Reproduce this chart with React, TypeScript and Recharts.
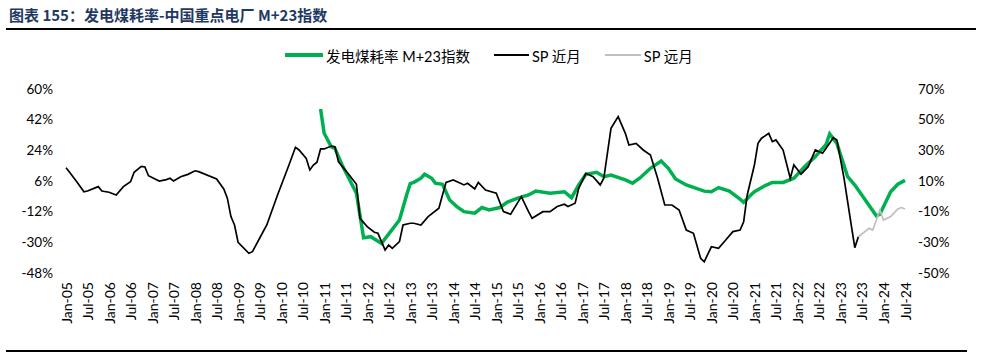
import { LineChart, Line, XAxis, YAxis } from 'recharts'

// x values are months counted from Jan-05 (0) up to Jul-24 (234)
const MONTHS = ['Jan', 'Feb', 'Mar', 'Apr', 'May', 'Jun', 'Jul', 'Aug', 'Sep', 'Oct', 'Nov', 'Dec']
const xTicks = Array.from({ length: 40 }, (_, i) => i * 6)
const xTickLabels = xTicks.map((m) => `${MONTHS[m % 12]}-${String(5 + Math.floor(m / 12)).padStart(2, '0')}`)

const leftTicks = [60, 42, 24, 6, -12, -30, -48]
const rightTicks = [70, 50, 30, 10, -10, -30, -50]

// SP 近月 (left axis, %)
const spNear: [number, number][] = [
  [0, 13.8], [1, 11.1], [3, 5.6], [5, -0.3], [6, 0.1], [9, 2.7], [10, 0.1], [12, -0.6], [14, -2.2], [16, 2.7],
  [18, 5.6], [19, 11.1], [21, 14.6], [22, 14.2], [23, 9.1], [26, 6.0], [28, 6.8], [29, 7.6], [30, 6.0], [32, 8.5],
  [34, 9.9], [36, 12.0], [37, 11.5], [42, 7.2], [44, 1.3], [45, -4.1], [46, -14.9], [47, -19.8], [48, -30], [51, -36.4],
  [52, -35.5], [54, -27.6], [56, -19.8], [59, -2.2], [62, 14.4], [64, 25.8], [65, 24.2], [67, 19.3], [68, 12.5], [69, 15.4],
  [70, 17.0], [71, 24.8], [72, 24.8], [74, 26.5], [75, 26.1], [76, 17.3], [79, 9.5], [81, 4.1], [82, -15.9], [84, -20.8],
  [86, -24.1], [87, -24.7], [89, -34.5], [90, -31.6], [91, -33.5], [93, -29.6], [94, -19.8], [96, -18.8], [97, -18.8], [99, -19.8],
  [101, -14.9], [104, -10.0], [105, -2.2], [106, 5.2], [108, 6.6], [111, 3.7], [112, 4.7], [114, 1.3], [115, 5.2], [117, 0.7],
  [120, -1.2], [122, -12.0], [124, -13.5], [127, -3.2], [129, -12.0], [130, -15.9], [133, -12.0], [135, -12.0], [137, -9.0], [139, -7.6],
  [140, -9.0], [142, -7.0], [143, 1.7], [145, 10.5], [147, 8.5], [149, 3.7], [150, 7.6], [152, 36.9], [154, 43.8], [156, 34.0],
  [157, 27.1], [159, 28.1], [161, 24.2], [163, 21.3], [165, 7.6], [167, -8.1], [169, -8.1], [171, -11.0], [173, -22.8], [175, -24.7],
  [177, -39.4], [178, -41.4], [180, -32.6], [182, -33.5], [184, -28.6], [186, -23.7], [188, -22.8], [189, -17.9], [190, -2.2], [192, 15.4],
  [193, 28.1], [194, 31.1], [196, 34.0], [197, 29.1], [198, 30.1], [200, 24.2], [202, 7.6], [203, 15.4], [205, 10.0], [207, 14.4],
  [209, 24.2], [211, 22.3], [212, 25.2], [214, 31.4], [215, 30.1], [217, 7.6], [219, -19.8], [220, -33.1], [221, -26.7],
]

// SP 远月 (left axis, %)
const spFar: [number, number][] = [
  [221, -26.7], [224, -21.8], [225, -22.8], [227, -11.0], [228, -16.9], [230, -14.9], [232, -10.4], [233, -9.6], [234, -10.4],
]

// 发电煤耗率 M+23指数 (right axis, %)
const coalIndex: [number, number][] = [
  [71, 57.0], [72, 41.1], [74, 32.3], [75, 31.3], [77, 20.4], [81, 2.0], [83, -27.0], [85, -26.3], [88, -30.7], [93, -15.4],
  [95, 0.9], [96, 8.3], [97, 9.1], [99, 11.8], [100, 14.4], [102, 11.8], [103, 8.6], [105, 7.9], [107, -2.4], [109, -6.7],
  [111, -10.0], [114, -11.0], [116, -7.3], [118, -8.9], [121, -7.3], [123, -3.9], [126, -1.2], [129, 0.9], [131, 3.4], [135, 2.0],
  [139, 3.0], [141, -0.9], [143, 7.4], [145, 14.4], [148, 15.7], [150, 12.8], [152, 13.9], [156, 10.7], [158, 8.6], [160, 11.8],
  [163, 18.3], [166, 23.0], [168, 18.3], [170, 11.3], [173, 7.4], [178, 3.4], [180, 3.0], [182, 5.7], [185, 3.4], [188, -1.8],
  [189, -3.9], [191, 0.9], [192, 3.0], [195, 7.0], [197, 9.1], [200, 9.1], [203, 11.8], [206, 19.3], [209, 25.9], [212, 33.9],
  [213, 40.7], [215, 34.5], [218, 12.8], [220, 7.4], [226, -12.7], [227, -11.7], [230, 3.0], [232, 7.9], [234, 10.4],
]

const series = [
  { name: '发电煤耗率 M+23指数', data: coalIndex, color: '#00b050', width: 3.5, axis: 'right', swatch: 38 },
  { name: 'SP 近月', data: spNear, color: '#000000', width: 1.7, axis: 'left', swatch: 35 },
  { name: 'SP 远月', data: spFar, color: '#bfbfbf', width: 1.7, axis: 'left', swatch: 36 },
]

const FONT = "Lato, 'Noto Sans CJK SC', sans-serif"

function XTick({ x, y, payload }: any) {
  const label = xTickLabels[xTicks.indexOf(payload.value)]
  return (
    <text
      transform={`translate(${x},${y}) rotate(-90)`}
      textAnchor="end"
      dominantBaseline="central"
      fontSize={14}
      fill="#000"
      fontFamily={FONT}
    >
      {label}
    </text>
  )
}

export default function App() {
  return (
    <div style={{ position: 'absolute', left: 0, top: 0, width: 982, height: 360, background: '#fff', fontFamily: FONT }}>
      <div style={{ position: 'absolute', left: 9, top: 4, fontSize: 15, fontWeight: 700, color: '#1f3864', fontFamily: "'Noto Sans CJK SC', sans-serif", whiteSpace: 'nowrap' }}>
        图表 155：发电煤耗率-中国重点电厂 M+23指数
      </div>
      <div style={{ position: 'absolute', left: 6, top: 28, width: 970, height: 2, background: '#000' }} />

      <div style={{ position: 'absolute', left: 285, top: 44, height: 22, display: 'flex', alignItems: 'center', fontSize: 14.5, color: '#000', fontFamily: FONT, whiteSpace: 'nowrap' }}>
        {series.map((s) => (
          <div key={s.name} style={{ display: 'flex', alignItems: 'center', marginRight: 24 }}>
            <div style={{ width: s.swatch, height: s.axis === 'right' ? 3.5 : 2, background: s.color, marginRight: 3 }} />
            <span>{s.name}</span>
          </div>
        ))}
      </div>

      <LineChart width={982} height={360} margin={{ top: 89, right: 17, bottom: 27, left: 6 }} style={{ position: 'absolute', left: 0, top: 0 }}>
        <XAxis
          xAxisId="x"
          type="number"
          dataKey="m"
          domain={[0, 234]}
          ticks={xTicks}
          interval={0}
          height={60}
          axisLine={false}
          tickLine={false}
          tickSize={0}
          tickMargin={9}
          tick={<XTick />}
        />
        <YAxis
          yAxisId="left"
          orientation="left"
          width={60}
          domain={[-48, 60]}
          ticks={leftTicks}
          interval={0}
          axisLine={false}
          tickLine={false}
          tickSize={0}
          tickMargin={13}
          tickFormatter={(v: number) => `${v}%`}
          tick={{ fontSize: 13.5, fill: '#000', fontFamily: FONT }}
        />
        <YAxis
          yAxisId="right"
          orientation="right"
          width={60}
          domain={[-50, 70]}
          ticks={rightTicks}
          interval={0}
          axisLine={false}
          tickLine={false}
          tickSize={0}
          tickMargin={13}
          tickFormatter={(v: number) => `${v}%`}
          tick={{ fontSize: 13.5, fill: '#000', fontFamily: FONT }}
        />
        {series.map((s) => (
          <Line
            key={s.name}
            xAxisId="x"
            yAxisId={s.axis}
            data={s.data.map(([m, v]) => ({ m, v }))}
            dataKey="v"
            name={s.name}
            type="linear"
            stroke={s.color}
            strokeWidth={s.width}
            dot={false}
            activeDot={false}
            isAnimationActive={false}
          />
        ))}
      </LineChart>

      <div style={{ position: 'absolute', left: 6, top: 350, width: 961, height: 2, background: '#000' }} />
    </div>
  )
}
